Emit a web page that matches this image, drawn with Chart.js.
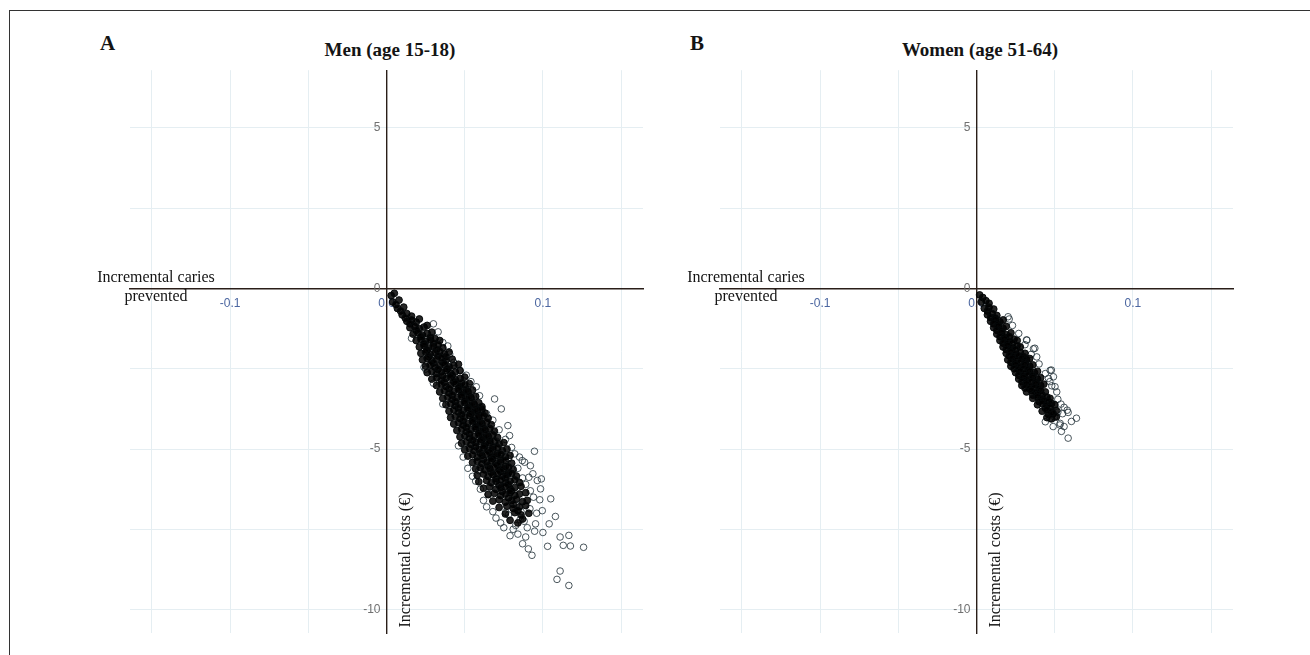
<!DOCTYPE html>
<html>
<head>
<meta charset="utf-8">
<script src="https://cdn.jsdelivr.net/npm/chart.js@4.4.0/dist/chart.umd.min.js"></script>
<style>
  body { margin: 0; width: 1310px; height: 655px; background: #fff; position: relative; overflow: hidden; font-family: "Liberation Serif", serif; color: #141414; }
  .frame { position: absolute; left: 9px; top: 10px; width: 1310px; height: 660px; border-top: 1.5px solid #333; border-left: 1.5px solid #333; }
  .panel { position: absolute; top: 60px; width: 570px; height: 585px; }
  .tag { position: absolute; font-weight: bold; font-size: 21px; line-height: 22px; top: 32px; }
  .title { position: absolute; font-weight: bold; font-size: 19px; line-height: 20px; top: 40px; width: 300px; text-align: center; }
  .xtitle { position: absolute; font-size: 16px; line-height: 19px; text-align: center; width: 160px; top: 267px; }
  .ytitle { position: absolute; font-size: 16px; line-height: 18px; width: 150px; text-align: center; white-space: nowrap; top: 551px; transform: rotate(-90deg); }
</style>
</head>
<body>
<div class="frame"></div>

<div class="tag" style="left:100px">A</div>
<div class="title" style="left:240px">Men (age 15-18)</div>
<div class="panel" style="left:100px"><canvas id="chartMen" width="570" height="585"></canvas></div>
<div class="xtitle" style="left:76px">Incremental caries<br>prevented</div>
<div class="ytitle" style="left:330px">Incremental costs (€)</div>

<div class="tag" style="left:690px">B</div>
<div class="title" style="left:830px">Women (age 51-64)</div>
<div class="panel" style="left:690px"><canvas id="chartWomen" width="570" height="585"></canvas></div>
<div class="xtitle" style="left:666px">Incremental caries<br>prevented</div>
<div class="ytitle" style="left:920px">Incremental costs (€)</div>

<script>
// axis setup
const xRange = [-0.164, 0.164];
const yRange = [-10.73, 6.8];
const xGrid = [-0.15, -0.1, -0.05, 0, 0.05, 0.1, 0.15];
const xLabels = [-0.1, 0, 0.1];
const yGrid = [-10, -7.5, -5, -2.5, 0, 2.5, 5];
const yLabels = [-10, -5, 0, 5];

// Men (15-18): dense band of simulations, [incremental effect, incremental cost]
const menCore = [
  [0.003,-0.22],[0.005,-0.15],[0.004,-0.42],[0.008,-0.36],[0.006,-0.5],
  [0.007,-0.62],[0.011,-0.58],[0.009,-0.7],[0.010,-0.82],[0.013,-0.78],[0.016,-0.86],[0.012,-0.92],
  [0.013,-1.02],[0.016,-0.98],[0.019,-1.05],[0.021,-0.95],[0.015,-1.1],
  [0.015,-1.22],[0.018,-1.18],[0.021,-1.25],[0.024,-1.2],[0.026,-1.15],[0.019,-1.3],
  [0.017,-1.42],[0.020,-1.38],[0.023,-1.45],[0.026,-1.4],[0.029,-1.36],[0.022,-1.5],[0.028,-1.52],
  [0.019,-1.62],[0.022,-1.58],[0.025,-1.65],[0.028,-1.6],[0.031,-1.56],[0.034,-1.62],[0.024,-1.72],[0.030,-1.7],
  [0.021,-1.82],[0.024,-1.78],[0.027,-1.85],[0.030,-1.8],[0.033,-1.76],[0.036,-1.84],[0.026,-1.92],[0.032,-1.9],
  [0.022,-2.02],[0.025,-1.98],[0.028,-2.05],[0.031,-2.0],[0.034,-1.96],[0.037,-2.04],[0.040,-1.98],[0.027,-2.12],[0.033,-2.1],[0.038,-2.12],
  [0.023,-2.22],[0.026,-2.18],[0.029,-2.25],[0.032,-2.2],[0.035,-2.16],[0.038,-2.24],[0.042,-2.2],[0.030,-2.32],[0.036,-2.3],
  [0.025,-2.42],[0.028,-2.38],[0.031,-2.45],[0.034,-2.4],[0.037,-2.36],[0.040,-2.44],[0.043,-2.4],[0.046,-2.36],[0.033,-2.52],[0.039,-2.5],
  [0.026,-2.62],[0.029,-2.58],[0.032,-2.65],[0.035,-2.6],[0.038,-2.56],[0.041,-2.64],[0.044,-2.6],[0.047,-2.56],[0.036,-2.72],[0.042,-2.7],
  [0.029,-2.82],[0.032,-2.78],[0.035,-2.85],[0.038,-2.8],[0.041,-2.76],[0.044,-2.84],[0.047,-2.8],[0.050,-2.76],[0.037,-2.92],[0.043,-2.9],[0.048,-2.94],
  [0.032,-3.02],[0.035,-2.98],[0.038,-3.05],[0.041,-3.0],[0.044,-2.96],[0.047,-3.04],[0.050,-3.0],[0.053,-2.96],[0.040,-3.12],[0.046,-3.1],[0.051,-3.14],
  [0.034,-3.22],[0.037,-3.18],[0.040,-3.25],[0.043,-3.2],[0.046,-3.16],[0.049,-3.24],[0.052,-3.2],[0.055,-3.16],[0.042,-3.32],[0.048,-3.3],[0.053,-3.34],
  [0.036,-3.42],[0.039,-3.38],[0.042,-3.45],[0.045,-3.4],[0.048,-3.36],[0.051,-3.44],[0.054,-3.4],[0.057,-3.36],[0.044,-3.52],[0.050,-3.5],[0.055,-3.54],
  [0.038,-3.62],[0.041,-3.58],[0.044,-3.65],[0.047,-3.6],[0.050,-3.56],[0.053,-3.64],[0.056,-3.6],[0.059,-3.56],[0.046,-3.72],[0.052,-3.7],[0.057,-3.74],[0.061,-3.68],
  [0.040,-3.82],[0.043,-3.78],[0.046,-3.85],[0.049,-3.8],[0.052,-3.76],[0.055,-3.84],[0.058,-3.8],[0.061,-3.76],[0.048,-3.92],[0.054,-3.9],[0.059,-3.94],[0.063,-3.88],
  [0.041,-4.02],[0.044,-3.98],[0.047,-4.05],[0.050,-4.0],[0.053,-3.96],[0.056,-4.04],[0.059,-4.0],[0.062,-3.96],[0.065,-4.04],[0.049,-4.12],[0.055,-4.1],[0.060,-4.14],
  [0.043,-4.22],[0.046,-4.18],[0.049,-4.25],[0.052,-4.2],[0.055,-4.16],[0.058,-4.24],[0.061,-4.2],[0.064,-4.16],[0.067,-4.24],[0.051,-4.32],[0.057,-4.3],[0.062,-4.34],
  [0.045,-4.42],[0.048,-4.38],[0.051,-4.45],[0.054,-4.4],[0.057,-4.36],[0.060,-4.44],[0.063,-4.4],[0.066,-4.36],[0.069,-4.44],[0.053,-4.52],[0.059,-4.5],[0.064,-4.54],
  [0.047,-4.62],[0.050,-4.58],[0.053,-4.65],[0.056,-4.6],[0.059,-4.56],[0.062,-4.64],[0.065,-4.6],[0.068,-4.56],[0.071,-4.64],[0.055,-4.72],[0.061,-4.7],[0.066,-4.74],
  [0.048,-4.82],[0.051,-4.78],[0.054,-4.85],[0.057,-4.8],[0.060,-4.76],[0.063,-4.84],[0.066,-4.8],[0.069,-4.76],[0.072,-4.84],[0.075,-4.8],[0.057,-4.92],[0.063,-4.9],[0.068,-4.94],
  [0.050,-5.02],[0.053,-4.98],[0.056,-5.05],[0.059,-5.0],[0.062,-4.96],[0.065,-5.04],[0.068,-5.0],[0.071,-4.96],[0.074,-5.04],[0.077,-5.0],[0.060,-5.12],[0.066,-5.1],[0.071,-5.14],
  [0.052,-5.22],[0.055,-5.18],[0.058,-5.25],[0.061,-5.2],[0.064,-5.16],[0.067,-5.24],[0.070,-5.2],[0.073,-5.16],[0.076,-5.24],[0.079,-5.2],[0.062,-5.32],[0.068,-5.3],[0.073,-5.34],
  [0.055,-5.42],[0.058,-5.38],[0.061,-5.45],[0.064,-5.4],[0.067,-5.36],[0.070,-5.44],[0.073,-5.4],[0.076,-5.36],[0.080,-5.44],[0.065,-5.52],[0.071,-5.5],[0.076,-5.54],
  [0.057,-5.62],[0.060,-5.58],[0.063,-5.65],[0.066,-5.6],[0.069,-5.56],[0.072,-5.64],[0.075,-5.6],[0.078,-5.56],[0.081,-5.64],[0.067,-5.72],[0.073,-5.7],[0.078,-5.74],
  [0.058,-5.82],[0.062,-5.78],[0.065,-5.85],[0.068,-5.8],[0.071,-5.76],[0.074,-5.84],[0.077,-5.8],[0.080,-5.76],[0.083,-5.84],[0.070,-5.92],[0.076,-5.9],
  [0.059,-6.02],[0.064,-5.98],[0.067,-6.05],[0.070,-6.0],[0.073,-5.96],[0.076,-6.04],[0.079,-6.0],[0.082,-5.96],[0.085,-6.04],[0.072,-6.12],[0.078,-6.1],
  [0.062,-6.22],[0.066,-6.18],[0.070,-6.25],[0.073,-6.2],[0.076,-6.16],[0.079,-6.24],[0.082,-6.2],[0.086,-6.16],[0.074,-6.32],[0.080,-6.3],
  [0.065,-6.42],[0.069,-6.38],[0.073,-6.45],[0.076,-6.4],[0.079,-6.36],[0.082,-6.44],[0.085,-6.4],[0.089,-6.36],[0.078,-6.52],
  [0.068,-6.62],[0.072,-6.58],[0.076,-6.65],[0.080,-6.6],[0.083,-6.56],[0.087,-6.64],[0.090,-6.6],[0.081,-6.72],
  [0.072,-6.82],[0.077,-6.78],[0.081,-6.85],[0.085,-6.8],[0.089,-6.76],[0.084,-6.92],
  [0.076,-7.02],[0.082,-6.98],[0.086,-7.05],[0.091,-7.0],[0.079,-7.22],[0.087,-7.18],[0.084,-7.3]
];
// Men (15-18): scattered simulations around the band
const menSpread = [
  [0.0392,-1.79],[0.0404,-2.04],[0.036,-1.68],[0.025,-2.51],[0.0574,-3.06],[0.0595,-3.34],[0.0691,-3.44],
  [0.0734,-3.75],[0.0776,-4.27],[0.0787,-4.58],[0.0946,-5.07],[0.085,-5.25],[0.0883,-5.41],[0.0936,-5.77],
  [0.099,-5.93],[0.0868,-5.36],[0.092,-5.52],[0.091,-5.88],[0.0964,-5.98],[0.0985,-6.24],[0.105,-6.55],
  [0.098,-6.58],[0.0917,-6.86],[0.0996,-6.92],[0.108,-7.10],[0.104,-7.33],[0.0953,-7.33],[0.0854,-7.2],
  [0.0826,-7.38],[0.0762,-6.97],[0.065,-6.40],[0.0947,-7.56],[0.089,-7.74],[0.1166,-7.69],[0.111,-7.74],
  [0.113,-8.0],[0.1176,-8.02],[0.126,-8.06],[0.103,-8.03],[0.0907,-8.11],[0.093,-8.31],[0.111,-8.8],
  [0.109,-9.06],[0.1166,-9.25],[0.059,-5.67],[0.030,-1.1],[0.033,-1.35],[0.043,-2.3],[0.047,-2.55],
  [0.051,-2.7],[0.054,-2.9],[0.060,-3.7],[0.064,-3.9],[0.068,-4.1],[0.072,-4.4],[0.076,-4.7],[0.080,-4.95],
  [0.082,-5.15],[0.084,-5.6],[0.087,-5.9],[0.089,-6.1],[0.092,-6.3],[0.094,-6.5],[0.017,-1.0],[0.016,-1.55],
  [0.024,-2.45],[0.030,-2.95],[0.036,-3.6],[0.046,-4.9],[0.052,-5.6],[0.057,-6.0],[0.062,-6.6],[0.068,-6.95],
  [0.073,-7.3],[0.078,-7.05],[0.081,-7.5],[0.084,-7.65],[0.087,-7.95],[0.090,-7.45],[0.096,-7.0],[0.100,-7.6],
  [0.055,-5.85],[0.060,-6.25],[0.064,-6.8],[0.070,-7.15],[0.075,-7.45],[0.079,-7.7],[0.049,-5.25],
  [0.070,-4.75],[0.074,-5.1],[0.078,-5.3],[0.083,-6.75],[0.086,-6.95],[0.088,-7.25]
];

// Women (51-64)
const womenCore = [
  [0.002,-0.2],[0.004,-0.28],[0.003,-0.42],[0.006,-0.38],[0.008,-0.46],
  [0.005,-0.62],[0.008,-0.58],[0.011,-0.64],[0.007,-0.7],
  [0.007,-0.82],[0.010,-0.78],[0.013,-0.84],[0.009,-0.9],[0.012,-0.92],
  [0.009,-1.02],[0.012,-0.98],[0.015,-1.04],[0.017,-0.98],[0.011,-1.1],[0.014,-1.12],
  [0.011,-1.22],[0.014,-1.18],[0.017,-1.24],[0.019,-1.18],[0.013,-1.3],[0.016,-1.32],
  [0.013,-1.42],[0.016,-1.38],[0.019,-1.44],[0.022,-1.38],[0.015,-1.5],[0.018,-1.52],[0.021,-1.5],
  [0.015,-1.62],[0.018,-1.58],[0.021,-1.64],[0.024,-1.58],[0.026,-1.62],[0.017,-1.7],[0.020,-1.72],[0.023,-1.7],
  [0.017,-1.82],[0.020,-1.78],[0.023,-1.84],[0.026,-1.78],[0.028,-1.82],[0.019,-1.9],[0.022,-1.92],[0.025,-1.9],
  [0.019,-2.02],[0.022,-1.98],[0.025,-2.04],[0.028,-1.98],[0.031,-2.02],[0.021,-2.1],[0.024,-2.12],[0.027,-2.1],[0.030,-2.12],
  [0.020,-2.22],[0.023,-2.18],[0.026,-2.24],[0.029,-2.18],[0.032,-2.22],[0.034,-2.18],[0.022,-2.3],[0.025,-2.32],[0.028,-2.3],[0.031,-2.32],
  [0.022,-2.42],[0.025,-2.38],[0.028,-2.44],[0.031,-2.38],[0.034,-2.42],[0.036,-2.38],[0.024,-2.5],[0.027,-2.52],[0.030,-2.5],[0.033,-2.52],
  [0.025,-2.62],[0.028,-2.58],[0.031,-2.64],[0.034,-2.58],[0.037,-2.62],[0.039,-2.58],[0.027,-2.7],[0.030,-2.72],[0.033,-2.7],[0.036,-2.72],
  [0.027,-2.82],[0.030,-2.78],[0.033,-2.84],[0.036,-2.78],[0.039,-2.82],[0.041,-2.78],[0.029,-2.9],[0.032,-2.92],[0.035,-2.9],[0.038,-2.92],
  [0.029,-3.02],[0.032,-2.98],[0.035,-3.04],[0.038,-2.98],[0.041,-3.02],[0.043,-2.98],[0.031,-3.1],[0.034,-3.12],[0.037,-3.1],[0.040,-3.12],
  [0.032,-3.22],[0.035,-3.18],[0.038,-3.24],[0.041,-3.18],[0.044,-3.22],[0.036,-3.32],[0.039,-3.3],[0.042,-3.32],
  [0.036,-3.42],[0.039,-3.38],[0.042,-3.44],[0.045,-3.38],[0.047,-3.42],[0.040,-3.52],[0.043,-3.5],[0.046,-3.52],
  [0.039,-3.62],[0.042,-3.58],[0.045,-3.64],[0.048,-3.58],[0.050,-3.62],[0.044,-3.72],[0.047,-3.7],
  [0.042,-3.82],[0.045,-3.78],[0.048,-3.84],[0.051,-3.8],[0.046,-3.92],[0.049,-3.9],
  [0.045,-4.02],[0.048,-4.06],[0.051,-4.0]
];
const womenSpread = [
  [0.0209,-0.95],[0.0202,-0.88],[0.023,-1.15],[0.027,-1.4],[0.032,-1.6],[0.0322,-1.61],[0.031,-1.75],
  [0.0373,-1.86],[0.0364,-1.88],[0.035,-2.05],[0.0385,-2.13],[0.040,-2.35],[0.0479,-2.54],[0.0471,-2.55],
  [0.044,-2.65],[0.0492,-2.75],[0.046,-2.8],[0.0469,-2.9],[0.030,-2.96],[0.0481,-3.03],[0.0502,-3.06],
  [0.0513,-3.22],[0.052,-3.45],[0.054,-3.6],[0.056,-3.7],[0.058,-3.79],[0.0586,-3.86],[0.052,-3.85],
  [0.055,-3.9],[0.050,-4.0],[0.0639,-4.04],[0.0607,-4.14],[0.047,-4.05],[0.0535,-4.2],[0.0533,-4.25],
  [0.049,-4.3],[0.056,-4.3],[0.0543,-4.45],[0.0586,-4.66],[0.044,-4.15]
];

// label only selected ticks; trailing en space keeps y labels off the axis line
function tickLabel(list, digits, pad) {
  return v => list.some(l => Math.abs(l - v) < 1e-9) ? (digits ? v.toFixed(digits) : String(v)) + pad : '';
}

function makePanel(id, core, spread) {
  const toXY = arr => arr.map(p => ({ x: p[0], y: p[1] }));
  new Chart(document.getElementById(id), {
    type: 'scatter',
    data: {
      datasets: [
        {
          data: toXY(core),
          pointRadius: 3.4,
          pointBorderWidth: 1,
          borderColor: 'rgba(5,8,10,0.95)',
          backgroundColor: 'rgba(0,0,0,0.85)'
        },
        {
          data: toXY(spread),
          pointRadius: 3.3,
          pointBorderWidth: 1,
          borderColor: 'rgba(30,45,52,0.8)',
          backgroundColor: 'rgba(0,0,0,0)'
        }
      ]
    },
    options: {
      responsive: false,
      animation: false,
      devicePixelRatio: 1,
      layout: { padding: { left: 30, right: 27, top: 8, bottom: 12 } },
      plugins: { legend: { display: false }, tooltip: { enabled: false } },
      scales: {
        x: {
          type: 'linear',
          min: xRange[0],
          max: xRange[1],
          position: { y: 0 },
          afterBuildTicks: s => { s.ticks = xGrid.map(v => ({ value: v })); },
          grid: { color: '#e5eef2', lineWidth: 1, drawTicks: false },
          border: { display: true, color: '#2a1e19', width: 1.4 },
          ticks: {
            padding: 8, autoSkip: false, maxRotation: 0,
            color: '#4b66a0',
            font: { family: 'Liberation Sans', size: 12 },
            callback: tickLabel(xLabels, 1, '')
          }
        },
        y: {
          type: 'linear',
          min: yRange[0],
          max: yRange[1],
          position: { x: 0 },
          afterBuildTicks: s => { s.ticks = yGrid.map(v => ({ value: v })); },
          grid: { color: '#e5eef2', lineWidth: 1, drawTicks: false },
          border: { display: true, color: '#2a1e19', width: 1.4 },
          ticks: {
            autoSkip: false,
            color: '#707070',
            font: { family: 'Liberation Sans', size: 12 },
            callback: tickLabel(yLabels, 0, '\u2002')
          }
        }
      }
    }
  });
}

makePanel('chartMen', menCore, menSpread);
makePanel('chartWomen', womenCore, womenSpread);
</script>
</body>
</html>
